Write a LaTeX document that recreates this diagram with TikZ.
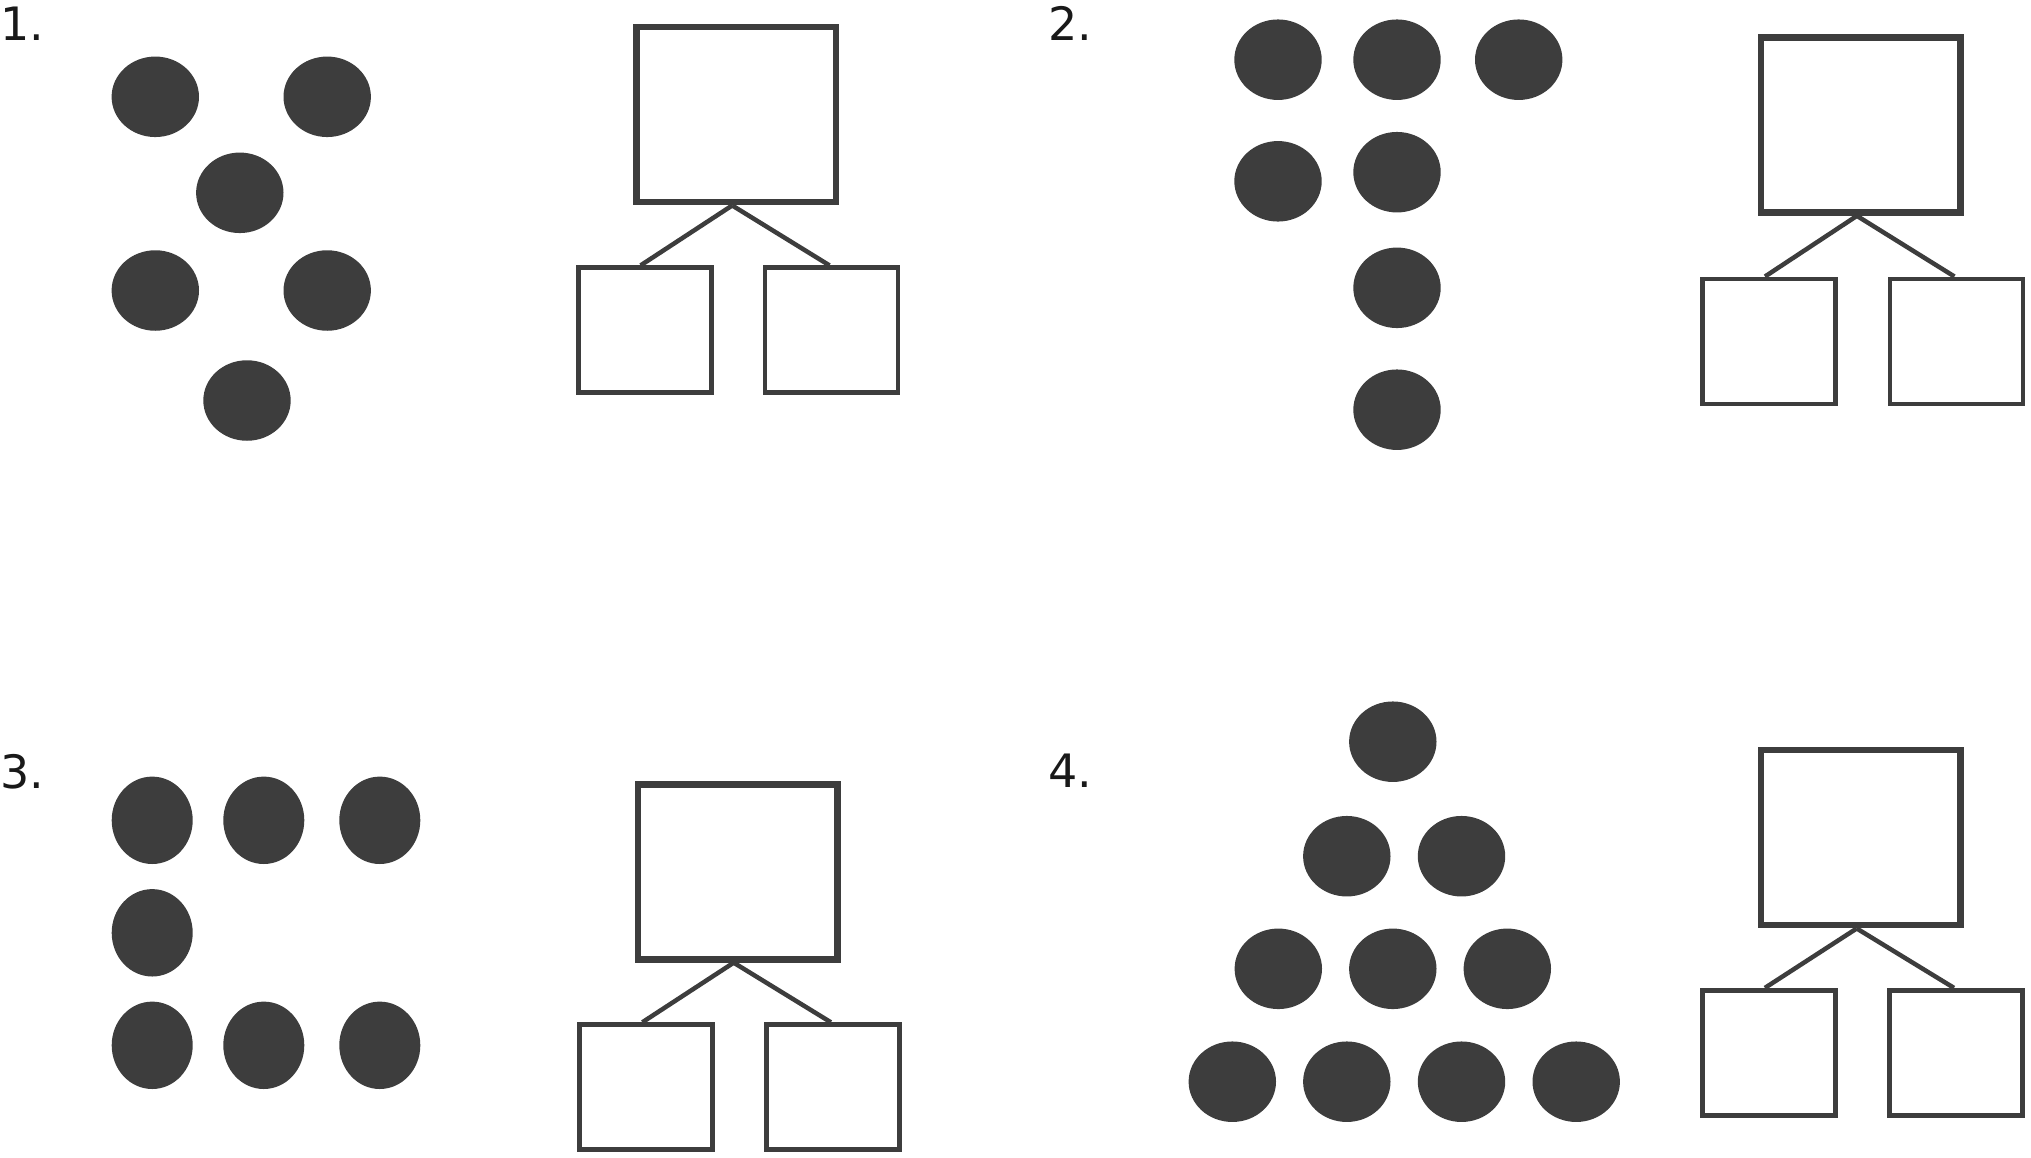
\documentclass[tikz,border=0pt]{standalone}
\usepackage{fontspec}
\setmainfont{DejaVu Sans}
\usetikzlibrary{shapes.geometric}
\definecolor{ink}{RGB}{61,61,61}
\tikzset{
  dotw/.style={ellipse, fill=ink, draw=none, inner sep=0pt, minimum width=87.4pt, minimum height=80.5pt},
  doth/.style={ellipse, fill=ink, draw=none, inner sep=0pt, minimum width=81pt, minimum height=87.4pt},
  bigbox/.style={rectangle, draw=ink, line width=6.5pt, inner sep=0pt, minimum width=199.5pt, minimum height=175pt},
  smallbox/.style={rectangle, draw=ink, line width=4.8pt, inner sep=0pt, minimum width=133pt, minimum height=125pt},
  link/.style={draw=ink, line width=4.5pt},
  num/.style={anchor=base west, inner sep=0pt, text=black!90, font=\fontsize{46}{46}\selectfont}
}
\begin{document}
\begin{tikzpicture}[x=1pt,y=-1pt]
\useasboundingbox (0,0) rectangle (2031,1157);
% labels
\node[num] (l1) at (0,40) {1.};
\node[num] (l2) at (1048,40) {2.};
\node[num] (l3) at (0,788) {3.};
\node[num] (l4) at (1048,787) {4.};
% panel 1 dots
\node[dotw] (a1) at (155.3,96.8) {};
\node[dotw] (a2) at (327.2,96.8) {};
\node[dotw] (a3) at (239.8,192.8) {};
\node[dotw] (a4) at (155.3,290.5) {};
\node[dotw] (a5) at (327.2,290.5) {};
\node[dotw] (a6) at (247,400.5) {};
% panel 2 dots
\node[dotw] (b1) at (1278,59.7) {};
\node[dotw] (b2) at (1397,59.7) {};
\node[dotw] (b3) at (1518.7,59.7) {};
\node[dotw] (b4) at (1278,181.3) {};
\node[dotw] (b5) at (1397,172.2) {};
\node[dotw] (b6) at (1397,287.8) {};
\node[dotw] (b7) at (1397,409.7) {};
% panel 3 dots
\node[doth] (c1) at (152.2,820.3) {};
\node[doth] (c2) at (263.8,820.3) {};
\node[doth] (c3) at (379.8,820.3) {};
\node[doth] (c4) at (152.2,932.8) {};
\node[doth] (c5) at (152.2,1045.3) {};
\node[doth] (c6) at (263.8,1045.3) {};
\node[doth] (c7) at (379.8,1045.3) {};
% panel 4 dots
\node[dotw] (d1) at (1392.8,741.7) {};
\node[dotw] (d2) at (1346.8,856.2) {};
\node[dotw] (d3) at (1461.5,856.2) {};
\node[dotw] (d4) at (1278.3,968.8) {};
\node[dotw] (d5) at (1392.8,968.8) {};
\node[dotw] (d6) at (1507.3,968.8) {};
\node[dotw] (d7) at (1232.3,1081.7) {};
\node[dotw] (d8) at (1346.8,1081.7) {};
\node[dotw] (d9) at (1461.5,1081.7) {};
\node[dotw] (d10) at (1576.2,1081.7) {};
% panel 1 boxes
\node[bigbox] (p1) at (736.2,114.7) {};
\node[smallbox] (p1l) at (644.6,330.3) {};
\node[smallbox] (p1r) at (831.5,330.3) {};
% panel 2 boxes
\node[bigbox] (p2) at (1860.9,125.1) {};
\node[smallbox] (p2l) at (1769,341.4) {};
\node[smallbox] (p2r) at (1956.4,341.4) {};
% panel 3 boxes
\node[bigbox] (p3) at (737.7,871.9) {};
\node[smallbox] (p3l) at (646.3,1087.2) {};
\node[smallbox] (p3r) at (832.9,1087.2) {};
% panel 4 boxes
\node[bigbox] (p4) at (1860.7,837.7) {};
\node[smallbox] (p4l) at (1768.9,1052.8) {};
\node[smallbox] (p4r) at (1956,1052.8) {};
% connectors
\foreach \p in {p1,p2,p3,p4}{
  \draw[link] ([xshift=-4pt]\p.south) -- ([xshift=-4pt]\p l.north);
  \draw[link] ([xshift=-4pt]\p.south) -- ([xshift=-2pt]\p r.north);
}
\end{tikzpicture}
\end{document}
